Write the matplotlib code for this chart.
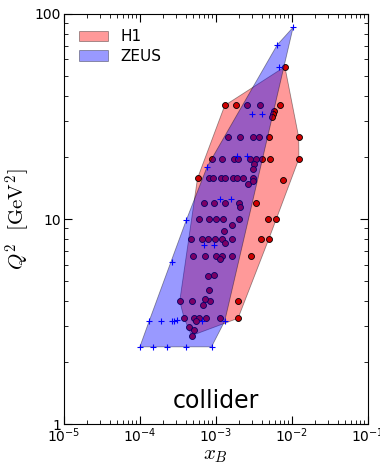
import numpy as np
import matplotlib
matplotlib.use('Agg')
import matplotlib.pyplot as plt
from matplotlib.patches import Polygon

plt.rcParams['mathtext.fontset'] = 'cm'

# H1 data points (x_B, Q^2 in GeV^2)
h1_x = [8.1e-3,
        1.31e-3, 1.83e-3, 2.60e-3, 3.79e-3, 6.95e-3,
        5.80e-3, 5.67e-3, 5.50e-3,
        1.46e-3, 2.07e-3, 3.07e-3, 3.71e-3, 5.03e-3, 1.23e-2,
        8.77e-4, 1.22e-3, 1.75e-3, 1.98e-3, 2.80e-3, 3.36e-3, 4.03e-3, 5.21e-3, 1.24e-2,
        3.21e-3, 3.10e-3,
        5.74e-4, 8.17e-4, 9.21e-4, 1.16e-3, 1.31e-3, 1.67e-3, 1.89e-3, 2.29e-3, 3.07e-3,
        2.66e-3, 3.11e-3, 7.55e-3,
        6.95e-4, 9.41e-4, 1.31e-3, 2.03e-3, 3.39e-3, 2.05e-3,
        5.92e-4, 8.17e-4, 9.90e-4, 1.24e-3, 2.03e-3, 4.88e-3, 6.11e-3,
        1.64e-3, 1.29e-3,
        4.69e-4, 6.61e-4, 7.92e-4, 9.84e-4, 1.19e-3, 1.62e-3, 3.91e-3, 4.98e-3,
        1.33e-3,
        5.02e-4, 7.16e-4, 1.02e-3, 1.21e-3, 1.61e-3, 2.86e-3, 1.13e-3,
        7.85e-4, 9.50e-4, 8.09e-4,
        3.35e-4, 4.93e-4, 8.34e-4, 1.96e-3, 7.27e-4, 6.81e-4,
        3.83e-4, 5.14e-4, 5.92e-4, 7.38e-4, 1.13e-3, 1.96e-3, 5.53e-4,
        4.46e-4, 5.16e-4, 4.79e-4]
h1_q2 = [55.3,
         35.8, 35.8, 35.8, 35.8, 35.8,
         33.5, 32.5, 31.4,
         25.1, 25.1, 25.1, 25.1, 25.1, 25.1,
         19.7, 19.7, 19.7, 19.7, 19.7, 19.7, 19.7, 19.7, 19.7,
         18.55, 17.5,
         15.8, 15.8, 15.8, 15.8, 15.8, 15.8, 15.8, 15.8, 15.8,
         14.9, 15.4, 15.5,
         12.0, 12.0, 12.0, 12.0, 12.0, 11.4,
         10.0, 10.0, 10.0, 10.0, 10.0, 10.0, 10.0,
         9.32, 8.77,
         7.99, 7.99, 7.99, 7.99, 7.99, 7.99, 7.99, 7.99,
         7.61,
         6.60, 6.60, 6.60, 6.60, 6.60, 6.60, 6.36,
         5.25, 5.36, 4.50,
         3.98, 3.98, 3.98, 3.98, 4.09, 3.81,
         3.28, 3.28, 3.28, 3.28, 3.28, 3.28, 3.18,
         2.99, 2.87, 2.70]

# ZEUS data points
zeus_x = [1.04e-2, 6.41e-3, 6.81e-3, 2.95e-3, 4.09e-3, 1.89e-3, 2.54e-3, 7.69e-4,
          1.15e-3, 1.57e-3, 4.11e-4, 6.95e-4, 9.50e-4, 2.61e-4,
          1.33e-4, 1.89e-4, 2.61e-4, 2.83e-4, 3.04e-4, 6.49e-4, 1.31e-3,
          1.0e-4, 1.47e-4, 2.29e-4, 4.03e-4, 8.77e-4]
zeus_q2 = [86.1, 70.6, 55.3, 32.5, 32.6, 20.3, 20.2, 18.0,
           12.5, 12.5, 9.94, 7.47, 7.47, 6.19,
           3.19, 3.19, 3.19, 3.19, 3.21, 3.19, 3.18,
           2.38, 2.38, 2.38, 2.38, 2.38]


def log_hull(xs, ys):
    # convex hull in log-log space (monotone chain)
    pts = sorted(set(zip(np.log10(xs), np.log10(ys))))
    def cross(o, a, b):
        return (a[0]-o[0])*(b[1]-o[1]) - (a[1]-o[1])*(b[0]-o[0])
    lower = []
    for p in pts:
        while len(lower) >= 2 and cross(lower[-2], lower[-1], p) <= 0:
            lower.pop()
        lower.append(p)
    upper = []
    for p in reversed(pts):
        while len(upper) >= 2 and cross(upper[-2], upper[-1], p) <= 0:
            upper.pop()
        upper.append(p)
    hull = np.array(lower[:-1] + upper[:-1])
    return 10**hull


fig = plt.figure(figsize=(3.8, 4.65), dpi=100)
ax = fig.add_axes([0.168, 0.088, 0.8, 0.882])
ax.set_xscale('log')
ax.set_yscale('log')

h1_poly = Polygon(log_hull(h1_x, h1_q2), closed=True, facecolor='red',
                  edgecolor='k', lw=0.6, alpha=0.4, zorder=1, label='H1')
ax.add_patch(h1_poly)
ax.plot(h1_x, h1_q2, 'o', color='#d00000', mec='k', ms=4.3, mew=0.6, zorder=2)

zeus_poly = Polygon(log_hull(zeus_x, zeus_q2), closed=True, facecolor='blue',
                    edgecolor='k', lw=0.6, alpha=0.4, zorder=3, label='ZEUS')
ax.add_patch(zeus_poly)
ax.plot(zeus_x, zeus_q2, '+', color='blue', ms=4, mew=0.8, zorder=4)

ax.set_xlim(1e-5, 1e-1)
ax.set_ylim(1, 100)
ax.set_yticks([1, 10, 100])
ax.set_yticklabels(['1', '10', '100'])
ax.xaxis.set_major_formatter(matplotlib.ticker.FuncFormatter(
    lambda v, p: r'$\mathdefault{10^{%d}}$' % round(np.log10(v))))
ax.tick_params(which='both', direction='in', top=True, right=True, labelsize=10, pad=2)
ax.tick_params(which='major', length=6)
ax.tick_params(which='minor', length=3)

ax.set_xlabel(r'$x_B$', fontsize=15, labelpad=0)
ax.set_ylabel(r'$Q^2\ \ [\mathrm{GeV}^2]$', fontsize=15, labelpad=2)
ax.text(0.5, 0.057, 'collider', transform=ax.transAxes, ha='center', va='center',
        fontsize=17)

ax.legend(handles=[h1_poly, zeus_poly], loc='upper left', frameon=False,
          fontsize=11, handlelength=1.9, labelspacing=0.3, borderaxespad=0.6)

fig.savefig('out.png', dpi=100)
